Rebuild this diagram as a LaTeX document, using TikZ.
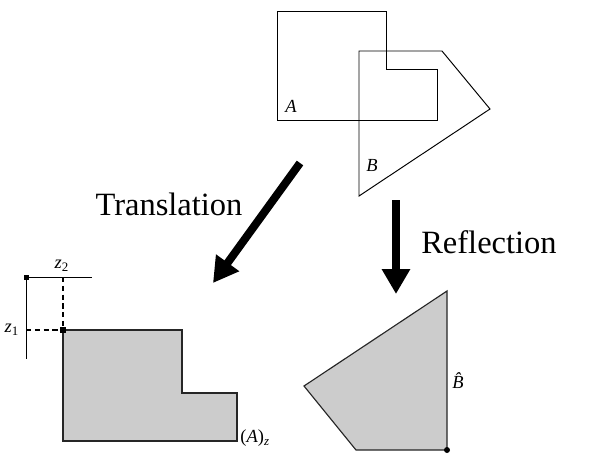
\documentclass[tikz,border=0pt]{standalone}
\usepackage{fontspec}
\setmainfont{Liberation Serif}
\usetikzlibrary{arrows.meta}
\begin{document}
\begin{tikzpicture}[x=0.02cm,y=-0.02cm,line width=0.55pt,
  lbl/.style={font=\fontsize{10.5}{12}\selectfont\itshape,inner sep=0pt},
  word/.style={font=\fontsize{18.5}{22}\selectfont,anchor=base,inner sep=0pt},
  shade/.style={fill=black!20,draw=black!85,line width=0.65pt},
  fatarrow/.style={line width=0.16cm,-{Triangle[length=0.5cm,width=0.54cm]}},
  guide/.style={dash pattern=on 3pt off 2pt,line width=0.6pt}]
\useasboundingbox (0,0) rectangle (603,464);
\draw (277,11) -- (386,11) -- (386,69) -- (437,69) -- (437,120) -- (277,120) -- cycle;
\draw (359,51) -- (442,51) -- (490,109) -- (359,196) -- cycle;
\node[lbl] (la) at (291,106) {A};
\node[lbl] (lb) at (372,165) {B};
\coordinate (ts) at (300,163);
\coordinate (te) at (213,283);
\coordinate (rs) at (396,200);
\coordinate (re) at (396,294);
\draw[fatarrow] (ts) -- (te);
\draw[fatarrow] (rs) -- (re);
\node[word] (trl) at (169,215) {Translation};
\node[word] (rfl) at (489,253) {Reflection};
\filldraw[shade] (63,330) -- (182,330) -- (182,393) -- (237,393) -- (237,441) -- (63,441) -- cycle;
\draw (26,277) -- (92,277);
\draw (26,277) -- (26,359);
\draw[guide] (63,277) -- (63,330);
\draw[guide] (26,330) -- (63,330);
\fill (23.5,274.5) rectangle (28.5,279.5);
\fill (60,327) rectangle (66,333);
\node[lbl] (z2) at (62,266) {z\textsubscript{\upshape 2}};
\node[lbl] (z1) at (12,330) {z\textsubscript{\upshape 1}};
\node[lbl,anchor=west] (az) at (240,438) {{\upshape(}A{\upshape)}\textsubscript{z}};
\filldraw[shade] (447,291) -- (447,450) -- (356,450) -- (304,386) -- cycle;
\fill (447,450) circle (3);
\node[lbl] (bh) at (458,381) {\^B};
\end{tikzpicture}
\end{document}
